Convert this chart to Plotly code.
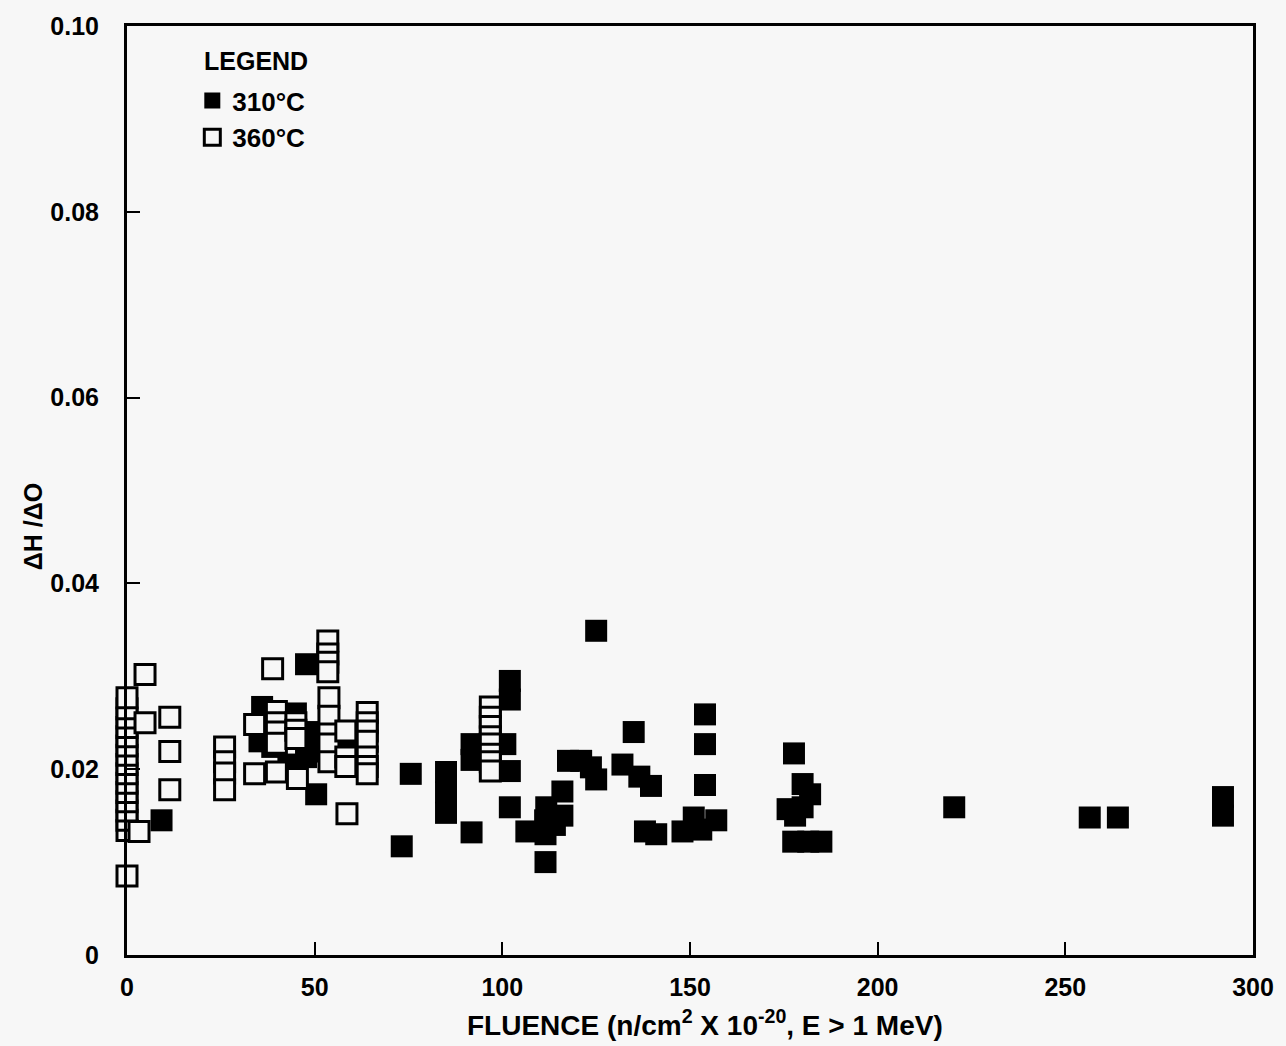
import plotly.graph_objects as go

# Irradiated specimens at 310 °C (filled squares)
fluence_310 = [9.2, 36, 45, 35.3, 38.7, 48.5, 49.3, 47.7, 43, 47.7, 50.4, 58.6,
               75.6, 73.2, 85, 85, 85, 91.8, 91.8, 91.8, 102, 102, 100.8, 102,
               102, 106.4, 111.7, 111.4, 111.5, 111.5, 116, 116, 114,
               117.5, 121, 123.6, 125, 125, 132, 135, 136.5, 139.6, 138, 141,
               148, 153, 151, 157, 154, 154, 154, 177.7, 180, 182, 176, 178,
               177.5, 181.5, 185, 180, 220.4, 256.5, 264, 292, 292]
ratio_310 = [0.0145, 0.0267, 0.0260, 0.0230, 0.0224, 0.0240, 0.0219, 0.0213, 0.0205,
             0.0313, 0.0173, 0.0227, 0.0195, 0.0117, 0.0197, 0.0175, 0.0153,
             0.0132, 0.0227, 0.0210, 0.0295, 0.0275, 0.0227, 0.0198, 0.0159,
             0.0133, 0.0159, 0.0145, 0.0130, 0.0100, 0.0176, 0.0150, 0.0140,
             0.0209, 0.0209, 0.0202, 0.0189, 0.0349, 0.0205, 0.0240, 0.0192,
             0.0182, 0.0133, 0.0130, 0.0133, 0.0135, 0.0148, 0.0145, 0.0259,
             0.0227, 0.0183, 0.0217, 0.0184, 0.0173, 0.0157, 0.0150, 0.0122,
             0.0122, 0.0122, 0.0159, 0.0159, 0.0148, 0.0148, 0.0170, 0.0150]

# Irradiated specimens at 360 °C (open squares)
fluence_360 = [0] * 16 + [3.2, 4.8, 4.8, 11.4, 11.4, 11.4,
               26, 26, 26, 26, 34, 34, 39.8, 45.4, 38.8,
               39.8, 39.8, 39.8, 39.8, 45, 45, 45,
               53.5, 53.5, 53.5, 53.5, 53.8, 53.8, 53.8, 53.8, 53.8,
               58.3, 58.3, 58.3, 58.6,
               64, 64, 64, 64, 64, 64, 64,
               96.8, 96.8, 96.8, 96.8, 96.8, 96.8, 96.8, 96.8]
ratio_360 = [0.0085, 0.0134, 0.0145, 0.0155, 0.0165, 0.0175, 0.0185, 0.0195,
             0.0205, 0.0215, 0.0225, 0.0235, 0.0245, 0.0255, 0.0265, 0.0277,
             0.0133, 0.0302, 0.0250, 0.0256, 0.0219, 0.0178,
             0.0224, 0.0208, 0.0196, 0.0178, 0.0248, 0.0195, 0.0197, 0.0190, 0.0308,
             0.0262, 0.0250, 0.0240, 0.0228, 0.0250, 0.0242, 0.0233,
             0.0338, 0.0324, 0.0315, 0.0305, 0.0277, 0.0257, 0.0238, 0.0227, 0.0208,
             0.0241, 0.0213, 0.0203, 0.0152,
             0.0261, 0.0250, 0.0241, 0.0230, 0.0213, 0.0203, 0.0195,
             0.0267, 0.0256, 0.0246, 0.0235, 0.0227, 0.0216, 0.0208, 0.0198]

x_ticks = [0, 50, 100, 150, 200, 250, 300]
y_ticks = [0, 0.02, 0.04, 0.06, 0.08, 0.10]
y_tick_text = ["0", "0.02", "0.04", "0.06", "0.08", "0.10"]

BG = "#f7f7f7"
FAMILY = "Liberation Sans, Arial, sans-serif"


def bold(size):
    return dict(family=FAMILY, color="black", size=size, weight="bold")


fig = go.Figure()
fig.add_trace(go.Scatter(
    x=fluence_310, y=ratio_310, mode="markers", name="310°C",
    marker=dict(symbol="square", size=22, color="black", line=dict(width=0)),
    cliponaxis=False,
))
fig.add_trace(go.Scatter(
    x=fluence_360, y=ratio_360, mode="markers", name="360°C",
    marker=dict(symbol="square", size=20, color=BG, line=dict(width=3, color="black")),
    cliponaxis=False,
))

axis_common = dict(
    showline=True, linecolor="black", linewidth=3, mirror=True,
    ticks="inside", tickcolor="black", tickwidth=2, ticklen=13,
    showgrid=False, zeroline=False, tickfont=bold(25),
)

fig.update_layout(
    width=1286, height=1046,
    margin=dict(l=127, r=31, t=23, b=91),
    paper_bgcolor=BG, plot_bgcolor=BG,
    font=bold(24),
    showlegend=True,
    legend=dict(
        x=0.058, y=0.945, xanchor="left", yanchor="top",
        bgcolor="rgba(0,0,0,0)", font=bold(26), itemwidth=30,
    ),
    xaxis=dict(
        range=[0, 300], tickvals=x_ticks, ticklabelstandoff=8,
        **axis_common,
    ),
    yaxis=dict(
        range=[0, 0.10], tickvals=y_ticks, ticktext=y_tick_text, ticklabelstandoff=20,
        **axis_common,
    ),
    annotations=[
        dict(text="LEGEND", xref="paper", yref="paper", x=0.067, y=0.962,
             xanchor="left", yanchor="middle", showarrow=False, font=bold(25)),
        dict(text="ΔH /ΔO", xref="paper", yref="paper", x=-0.084, y=0.461,
             xanchor="center", yanchor="middle", textangle=-90, showarrow=False,
             font=bold(25)),
        dict(text="<b>FLUENCE (n/cm<sup>2</sup> X 10<sup>-20</sup>, E > 1 MeV)</b>",
             xref="paper", yref="paper", x=0.513, y=-0.073,
             xanchor="center", yanchor="middle", showarrow=False, font=bold(28)),
    ],
)

fig.write_html("out.html")
